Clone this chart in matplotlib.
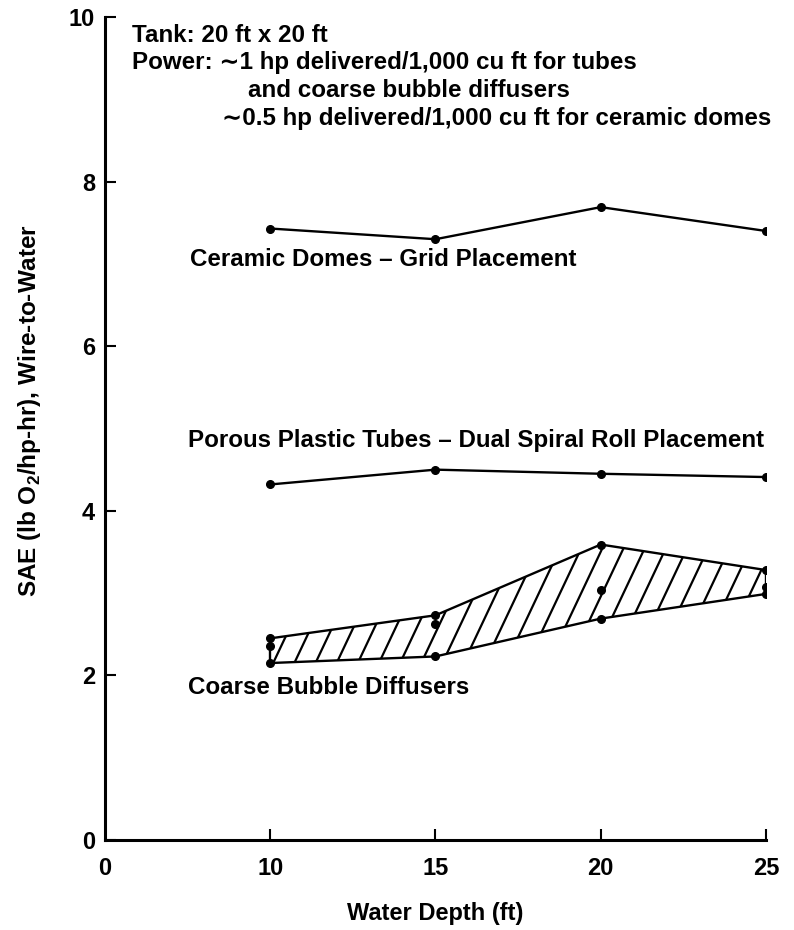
import matplotlib.pyplot as plt
import numpy as np
from matplotlib.collections import LineCollection
from matplotlib.patches import Polygon

plt.rcParams['font.family'] = ['Liberation Sans', 'DejaVu Sans']
plt.rcParams['font.weight'] = 'bold'
plt.rcParams['axes.labelweight'] = 'bold'
plt.rcParams['mathtext.fontset'] = 'custom'
plt.rcParams['mathtext.rm'] = 'Liberation Sans:bold'

# water depth (ft) and SAE readings
depth = [10, 15, 20, 25]
ceramic = [7.43, 7.30, 7.69, 7.40]
porous = [4.32, 4.50, 4.45, 4.41]
coarse_hi = [2.45, 2.73, 3.59, 3.28]
coarse_lo = [2.15, 2.23, 2.69, 2.99]
coarse_mid = [2.36, 2.63, 3.04, 3.07]

xtick_pos = [5, 10, 15, 20, 25]
xtick_lab = ['0', '10', '15', '20', '25']

fig = plt.figure(figsize=(7.94, 9.30), dpi=100)
ax = fig.add_axes([0.1322, 0.0968, 0.8325, 0.8849])

ax.plot(depth, ceramic, color='black', lw=1.7, marker='o', ms=5.5)
ax.plot(depth, porous, color='black', lw=1.7, marker='o', ms=5.5)
ax.plot(depth, coarse_hi, color='black', lw=1.7, marker='o', ms=5.5)
ax.plot(depth, coarse_lo, color='black', lw=1.7, marker='o', ms=5.5)
ax.plot(depth, coarse_mid, color='black', lw=0, marker='o', ms=5.5)
ax.plot([depth[0], depth[0]], [coarse_lo[0], coarse_hi[0]], color='black', lw=1.7)
ax.plot([depth[-1], depth[-1]], [coarse_lo[-1], coarse_hi[-1]], color='black', lw=1.7)

# steep diagonal hatching between the coarse bubble bounds
band = np.column_stack([depth + depth[::-1], coarse_lo + coarse_hi[::-1]])
clip = Polygon(band, closed=True, transform=ax.transData, facecolor='none', edgecolor='none')
ax.add_patch(clip)
segs = []
for x0 in np.arange(5.0, 27.0, 0.64):
    segs.append([(x0, 0.0), (x0 + 6.0, 6.0 * 0.85)])
hatch = LineCollection(segs, colors='black', linewidths=1.6)
hatch.set_clip_path(clip)
ax.add_collection(hatch)

ax.set_xlim(5, 25)
ax.set_ylim(0, 10)
ax.set_xticks(xtick_pos)
ax.set_xticklabels(xtick_lab)
ax.set_yticks([0, 2, 4, 6, 8, 10])
ax.xaxis.get_major_ticks()[0].tick1line.set_visible(False)
ax.tick_params(direction='in', length=8, width=1.5, labelsize=17, pad=12)
ax.tick_params(axis='y', pad=7)
for s in ['top', 'right']:
    ax.spines[s].set_visible(False)
for s in ['left', 'bottom']:
    ax.spines[s].set_linewidth(2.2)

ax.set_xlabel('Water Depth (ft)', fontsize=17, labelpad=16)
ax.set_ylabel(r'SAE (lb O$_2$/hp-hr), Wire-to-Water', fontsize=17.5)
ax.yaxis.set_label_coords(-0.094, 0.522)

fs = 17.4
ax.text(5.82, 9.78, 'Tank: 20 ft x 20 ft', fontsize=fs, va='center')
ax.text(5.82, 9.45, 'Power: \u223c1 hp delivered/1,000 cu ft for tubes', fontsize=fs, va='center')
ax.text(9.33, 9.11, 'and coarse bubble diffusers', fontsize=fs, va='center')
ax.text(8.54, 8.77, '\u223c0.5 hp delivered/1,000 cu ft for ceramic domes', fontsize=fs, va='center')
ax.text(7.57, 7.05, 'Ceramic Domes \u2013 Grid Placement', fontsize=fs, va='center')
ax.text(7.51, 4.85, 'Porous Plastic Tubes \u2013 Dual Spiral Roll Placement', fontsize=fs, va='center')
ax.text(7.51, 1.85, 'Coarse Bubble Diffusers', fontsize=fs, va='center')

fig.savefig('out.png', dpi=100)
